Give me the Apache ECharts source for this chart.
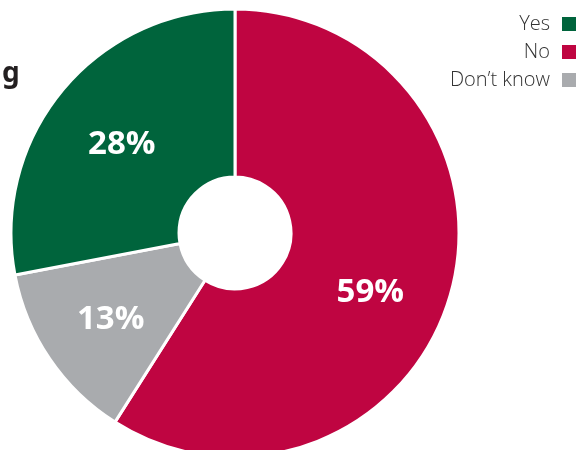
<!DOCTYPE html>
<html lang="en">
<head>
    <meta charset="UTF-8">
    <title>Yes / No / Don't know</title>
    <script type="text/javascript" src="https://cdn.jsdelivr.net/npm/echarts@6/dist/echarts.min.js"></script>
    <style>
        html, body {margin: 0; padding: 0; background: #fff;}
        #chart {width: 576px; height: 450px;}
    </style>
</head>
<body>
<div id="chart"></div>
<script>
    // 数据（顺时针，从12点方向开始）
    var names = ['No', 'Don\u2019t know', 'Yes'];
    var values = [59, 13, 28];
    var colors = ['#bf0541', '#a9abae', '#00643c'];
    var legendOrder = ['Yes', 'No', 'Don\u2019t know'];
    // 标签微调（像素）
    var labelShift = [[-2, 20], [-6, 6], [-3, 3]];

    var chart = echarts.init(document.getElementById('chart'));

    var pieData = [];
    for (var i = 0; i < names.length; i++) {
        pieData.push({
            name: names[i],
            value: values[i],
            itemStyle: {color: colors[i]},
            label: {offset: labelShift[i]}
        });
    }

    var option = {
        animation: false,
        title: {
            text: 'g',
            left: 2,
            top: 60,
            padding: 0,
            textStyle: {fontFamily: 'Noto Sans', fontWeight: 'bold', fontSize: 28, color: '#231f20'}
        },
        legend: {
            data: legendOrder,
            orient: 'vertical',
            right: -6,
            top: 14,
            padding: 0,
            align: 'right',
            icon: 'rect',
            itemWidth: 20,
            itemHeight: 16,
            itemGap: 8,
            selectedMode: false,
            textStyle: {fontFamily: 'Open Sans', fontWeight: 300, fontSize: 20, color: '#333', padding: [0, 6, 0, 0]}
        },
        series: [{
            type: 'pie',
            center: [235, 233],
            radius: [56, 224],
            startAngle: 90,
            clockwise: true,
            itemStyle: {borderColor: '#fff', borderWidth: 3},
            label: {
                show: true,
                position: 'inside',
                formatter: '{c}%',
                fontFamily: 'Open Sans',
                fontWeight: 'bold',
                fontSize: 33,
                color: '#fff'
            },
            labelLine: {show: false},
            emphasis: {disabled: true},
            data: pieData
        }]
    };

    chart.setOption(option);
</script>
</body>
</html>
